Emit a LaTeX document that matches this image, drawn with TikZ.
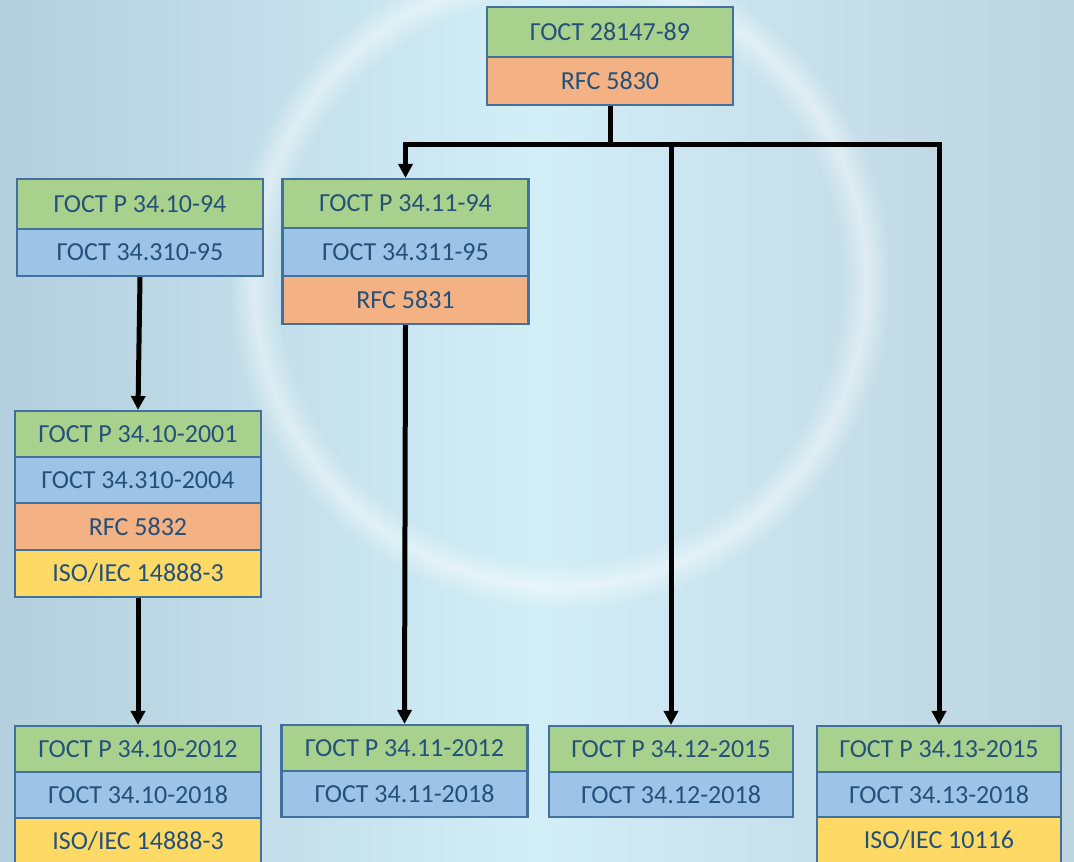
\documentclass[tikz,border=0pt]{standalone}
\usepackage{fontspec}
\setmainfont{Carlito}
\usetikzlibrary{arrows.meta,fadings}
\definecolor{cgreen}{HTML}{A9D18E}
\definecolor{cblue}{HTML}{9DC3E6}
\definecolor{corange}{HTML}{F4B183}
\definecolor{cyellow}{HTML}{FFD966}
\definecolor{cborder}{HTML}{41719C}
\definecolor{ctext}{HTML}{24507A}
\definecolor{bgL}{HTML}{B4CFDD}
\definecolor{bgM}{HTML}{D2EEF7}
\definecolor{bgR}{HTML}{BCD3E0}
\begin{document}
\begin{tikzpicture}[x=0.75pt,y=-0.75pt,
  cell/.style={draw=cborder, line width=1.6pt, rectangle, inner sep=0pt,
    minimum width=184.5pt, text=ctext, font=\fontsize{19.5}{22}\selectfont},
  h50/.style={minimum height=37.5pt},
  h48/.style={minimum height=36pt},
  h46/.style={minimum height=34.5pt},
  h45/.style={minimum height=33.75pt},
  w244/.style={minimum width=183pt},
  conn/.style={line width=3.75pt, black},
  arr/.style={conn, -{Triangle[length=10.5pt,width=10.5pt]}}]
\useasboundingbox (0,0) rectangle (1074,862);
\begin{scope}
\clip (0,0) rectangle (1074,862);
\shade[left color=bgL, right color=bgR, middle color=bgM] (0,0) rectangle (1074,862);
\fill[white, opacity=0.45, path fading=fuzzy ring 15 percent] (560,280) ellipse [x radius=330, y radius=330];

% top
\node[cell,h50,fill=cgreen] (top1) at (610,32) {ГОСТ 28147-89};
\node[cell,h48,fill=corange] (top2) at (610,81) {RFC 5830};

% left column
\node[cell,h50,fill=cgreen] (L1a) at (140,204) {ГОСТ Р 34.10-94};
\node[cell,minimum height=35.25pt,fill=cblue] (L1b) at (140,252.5) {ГОСТ 34.310-95};

\node[cell,h46,fill=cgreen] (L2a) at (138,434) {ГОСТ Р 34.10-2001};
\node[cell,h46,fill=cblue] (L2b) at (138,480) {ГОСТ 34.310-2004};
\node[cell,minimum height=35.25pt,fill=corange] (L2c) at (138,526.5) {RFC 5832};
\node[cell,minimum height=35.25pt,fill=cyellow] (L2d) at (138,573.5) {ISO/IEC 14888-3};

\node[cell,h46,fill=cgreen] (L3a) at (138,749) {ГОСТ Р 34.10-2012};
\node[cell,h46,fill=cblue] (L3b) at (138,795) {ГОСТ 34.10-2018};
\node[cell,h46,fill=cyellow] (L3c) at (138,841) {ISO/IEC 14888-3};

% middle column
\node[cell,minimum height=36.75pt,fill=cgreen] (M1a) at (405.5,203.5) {ГОСТ Р 34.11-94};
\node[cell,h48,fill=cblue] (M1b) at (405.5,252) {ГОСТ 34.311-95};
\node[cell,h48,fill=corange] (M1c) at (405.5,300) {RFC 5831};

\node[cell,h46,fill=cgreen] (M2a) at (404.5,748) {ГОСТ Р 34.11-2012};
\node[cell,h46,fill=cblue] (M2b) at (404.5,794) {ГОСТ 34.11-2018};

% third column
\node[cell,w244,h46,fill=cgreen] (C3a) at (671,749) {ГОСТ Р 34.12-2015};
\node[cell,w244,h45,fill=cblue] (C3b) at (671,794.5) {ГОСТ 34.12-2018};

% fourth column
\node[cell,w244,h46,fill=cgreen] (C4a) at (939,749) {ГОСТ Р 34.13-2015};
\node[cell,w244,h45,fill=cblue] (C4b) at (939,794.5) {ГОСТ 34.13-2018};
\node[cell,w244,h46,fill=cyellow] (C4c) at (939,840) {ISO/IEC 10116};

% connectors
\coordinate (J) at (610,145);
\coordinate (hL) at (405.5,145);
\coordinate (hM) at (671,145);
\coordinate (hR) at (939,145);
\draw[conn] (top2.south) -- (J);
\draw[conn, line cap=rect] (hL) -- (hR);
\draw[arr] (hL) -- (M1a.north);
\draw[arr] (hM) -- (C3a.north);
\draw[arr] (hR) -- (C4a.north);
\draw[arr] (L1b.south) -- (L2a.north);
\draw[arr] (L2d.south) -- (L3a.north);
\draw[arr] (M1c.south) -- (M2a.north);
\end{scope}
\end{tikzpicture}
\end{document}
